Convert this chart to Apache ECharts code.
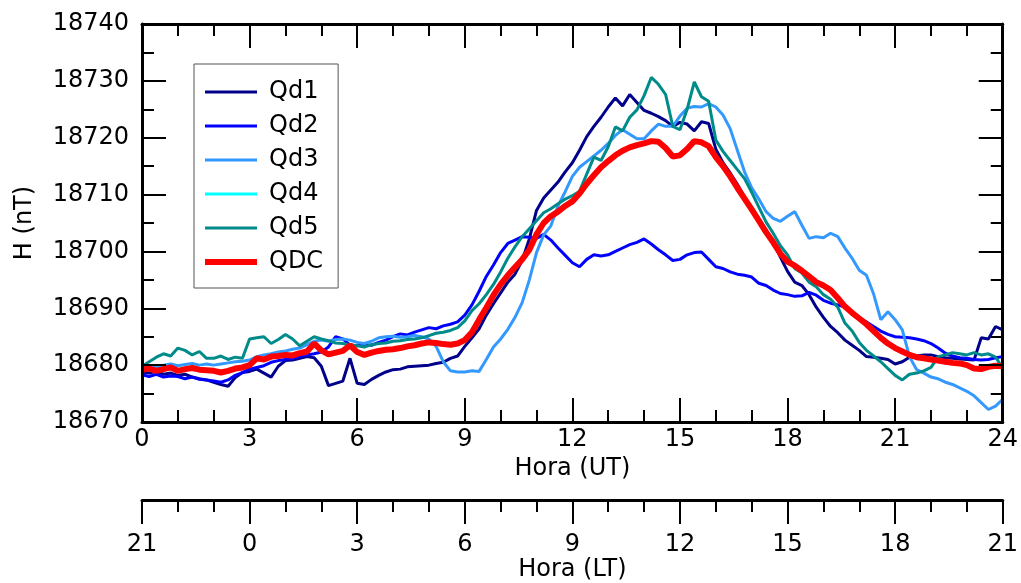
<!DOCTYPE html>
<html>
<head>
<meta charset="utf-8">
<script src="https://cdn.jsdelivr.net/npm/echarts@6/dist/echarts.min.js"></script>
<style>
html,body{margin:0;padding:0;background:#fff;}
#chart{width:1021px;height:583px;}
</style>
</head>
<body>
<div id="chart"></div>
<script>
// Hours (UT) of the sampled points
const hours = [0.0,0.2,0.4,0.6,0.8,1.0,1.2,1.4,1.6,1.8,2.0,2.2,2.4,2.6,2.8,3.0,3.2,3.4,3.6,3.8,
4.0,4.2,4.4,4.6,4.8,5.0,5.2,5.4,5.6,5.8,6.0,6.2,6.4,6.6,6.8,7.0,7.2,7.4,7.6,7.8,
8.0,8.2,8.4,8.6,8.8,9.0,9.2,9.4,9.6,9.8,10.0,10.2,10.4,10.6,10.8,11.0,11.2,11.4,11.6,11.8,
12.0,12.2,12.4,12.6,12.8,13.0,13.2,13.4,13.6,13.8,14.0,14.2,14.4,14.6,14.8,15.0,15.2,15.4,15.6,15.8,
16.0,16.2,16.4,16.6,16.8,17.0,17.2,17.4,17.6,17.8,18.0,18.2,18.4,18.6,18.8,19.0,19.2,19.4,19.6,19.8,
20.0,20.2,20.4,20.6,20.8,21.0,21.2,21.4,21.6,21.8,22.0,22.2,22.4,22.6,22.8,23.0,23.2,23.4,23.6,23.8,24.0];

const qd1 = [18678.8,18678.6,18678.9,18678.4,18678.6,18678.2,18678.4,18677.9,18677.6,18677.4,
18677.0,18676.6,18676.3,18677.8,18678.7,18678.9,18679.3,18678.6,18677.9,18679.8,
18680.8,18680.9,18681.2,18681.5,18681.3,18679.8,18676.4,18676.8,18677.2,18681.2,
18676.8,18676.6,18677.5,18678.2,18678.8,18679.2,18679.3,18679.7,18679.8,18679.9,
18680.0,18680.3,18680.5,18681.2,18681.6,18683.3,18684.8,18686.4,18688.8,18690.8,
18692.7,18694.6,18696.0,18698.4,18702.2,18707.2,18709.4,18710.8,18712.2,18714.0,
18715.6,18717.8,18720.2,18722.0,18723.6,18725.4,18727.0,18725.6,18727.6,18726.2,
18724.8,18724.3,18723.7,18723.0,18722.0,18722.7,18722.4,18721.2,18722.8,18722.5,
18718.0,18715.6,18713.8,18711.8,18709.5,18707.6,18705.8,18703.8,18701.8,18699.0,
18696.5,18694.6,18694.0,18692.4,18690.2,18688.4,18686.8,18685.7,18684.4,18683.5,
18682.6,18681.5,18681.4,18681.2,18681.0,18680.2,18680.6,18681.4,18681.6,18681.8,
18681.8,18681.5,18681.3,18681.2,18681.1,18681.0,18680.9,18684.8,18684.6,18686.8,18686.2];

const qd2 = [18678.3,18678.0,18678.4,18677.9,18678.1,18678.0,18677.6,18677.9,18677.5,18677.4,
18677.2,18677.0,18677.4,18678.2,18678.7,18679.3,18679.6,18679.9,18680.5,18680.8,
18681.0,18681.2,18681.5,18681.8,18682.0,18682.3,18683.2,18685.0,18684.6,18683.5,
18683.4,18683.6,18683.5,18684.0,18684.4,18685.0,18685.5,18685.3,18685.8,18686.2,
18686.6,18686.4,18686.9,18687.2,18687.6,18688.8,18690.6,18693.0,18695.6,18697.6,
18699.8,18701.4,18702.0,18702.6,18702.5,18702.3,18703.0,18702.0,18700.6,18699.3,
18698.0,18697.3,18698.6,18699.4,18699.2,18699.4,18700.0,18700.6,18701.2,18701.6,
18702.2,18701.3,18700.3,18699.4,18698.4,18698.6,18699.4,18699.8,18699.9,18698.6,
18697.3,18697.0,18696.4,18696.0,18695.8,18695.5,18694.4,18694.0,18693.2,18692.6,
18692.4,18692.1,18692.2,18692.8,18692.3,18691.4,18690.9,18690.6,18690.2,18689.0,
18688.2,18687.6,18686.8,18686.0,18685.4,18685.0,18684.9,18684.8,18684.6,18684.3,
18683.8,18683.0,18682.1,18681.6,18681.3,18681.2,18681.0,18680.9,18681.0,18681.3,18681.5];

const qd3 = [18679.5,18679.8,18679.6,18680.0,18680.2,18679.9,18680.1,18680.3,18680.0,18680.2,
18680.0,18680.2,18680.4,18680.6,18680.7,18680.9,18681.5,18681.8,18682.0,18682.3,
18682.5,18682.8,18683.0,18683.6,18684.2,18684.4,18684.2,18684.5,18684.6,18684.4,
18684.0,18683.8,18684.2,18684.8,18685.0,18685.1,18684.9,18685.0,18685.2,18685.0,
18684.6,18683.3,18680.6,18679.0,18678.8,18678.8,18679.0,18678.9,18681.0,18683.2,
18684.6,18686.3,18688.4,18691.0,18695.0,18699.8,18702.9,18704.5,18708.0,18710.5,
18713.2,18714.8,18715.8,18716.8,18717.8,18719.0,18720.4,18721.4,18720.6,18719.8,
18719.8,18721.2,18722.4,18722.0,18722.0,18723.8,18725.2,18725.5,18725.4,18726.0,
18725.4,18724.0,18721.6,18717.8,18714.0,18711.2,18709.2,18707.0,18705.8,18705.3,
18706.2,18707.0,18704.6,18702.3,18702.6,18702.4,18703.2,18702.6,18700.6,18698.8,
18696.7,18695.8,18692.5,18688.0,18689.4,18688.0,18686.2,18681.5,18679.2,18678.6,
18677.9,18677.6,18677.0,18676.6,18676.0,18675.4,18674.6,18673.4,18672.2,18672.8,18674.0];

// Qd4 is listed in the legend but no trace is visible in the figure
const qd4 = [];

const qd5 = [18679.8,18680.6,18681.4,18682.0,18681.6,18683.0,18682.6,18681.8,18682.4,18681.2,
18681.2,18681.6,18681.0,18681.4,18681.2,18684.6,18684.8,18685.0,18683.8,18684.5,
18685.4,18684.6,18683.4,18684.2,18685.0,18684.6,18684.3,18683.9,18683.8,18683.6,
18683.4,18683.2,18683.6,18683.8,18683.9,18684.2,18684.3,18684.5,18684.6,18684.8,
18685.2,18685.6,18685.8,18686.1,18686.6,18687.8,18689.6,18690.8,18692.4,18694.2,
18696.4,18698.8,18700.8,18702.6,18704.0,18705.4,18706.8,18707.5,18708.4,18709.2,
18709.8,18710.6,18713.6,18716.6,18716.0,18718.4,18721.9,18721.2,18723.6,18724.9,
18727.4,18730.6,18729.4,18727.6,18722.0,18721.4,18725.0,18729.8,18727.2,18726.4,
18719.6,18717.6,18716.0,18714.4,18712.8,18710.4,18707.8,18705.2,18703.2,18701.0,
18699.4,18697.0,18696.2,18694.6,18693.8,18692.4,18691.6,18690.2,18687.4,18686.0,
18684.0,18682.6,18681.6,18680.6,18679.4,18678.2,18677.4,18678.4,18678.6,18679.0,
18679.6,18681.5,18681.8,18682.2,18682.0,18681.8,18682.2,18681.8,18682.0,18681.4,18679.5];

const qdc = [18679.2,18679.4,18679.0,18679.3,18679.6,18679.0,18679.3,18679.5,18679.2,18679.1,
18679.0,18678.7,18679.0,18679.4,18679.6,18680.0,18681.2,18681.0,18681.5,18681.6,
18681.8,18681.7,18682.1,18682.4,18683.8,18682.6,18681.9,18682.2,18682.5,18683.5,
18682.3,18681.8,18682.2,18682.5,18682.7,18682.8,18683.0,18683.3,18683.5,18683.8,
18684.0,18683.9,18683.7,18683.6,18683.8,18684.4,18685.8,18688.0,18690.1,18692.3,
18694.2,18695.8,18697.2,18698.6,18700.3,18703.0,18705.0,18706.2,18707.0,18708.0,
18708.8,18710.2,18711.9,18713.4,18714.8,18715.9,18716.9,18717.7,18718.3,18718.7,
18719.0,18719.4,18719.3,18718.2,18716.7,18716.9,18718.0,18719.4,18719.2,18718.5,
18716.6,18715.0,18713.2,18711.2,18709.3,18707.4,18705.4,18703.4,18701.6,18699.6,
18698.2,18697.5,18696.6,18695.6,18694.6,18694.0,18693.2,18691.8,18690.3,18689.2,
18688.2,18687.2,18686.0,18684.8,18683.8,18683.0,18682.4,18681.8,18681.4,18681.2,
18681.0,18680.8,18680.6,18680.4,18680.3,18680.0,18679.4,18679.3,18679.7,18679.9,18679.8];

const seriesNames = ['Qd1','Qd2','Qd3','Qd4','Qd5','QDC'];
const seriesValues = [qd1, qd2, qd3, qd4, qd5, qdc];
const seriesColors = ['#00008b','#0000ff','#3399ff','#00ffff','#008b8b','#ff0000'];
const seriesWidths = [3,3,3,3,3,6];

// Tick labels: UT hours on the main axis, LT = UT - 3 on the lower axis
const utTicks = [0,3,6,9,12,15,18,21,24];
const ltTicks = [21,0,3,6,9,12,15,18,21];

function pairs(vals){ return vals.map((v,i)=>[hours[i], v]); }

const FONT = 'DejaVu Sans';
const FS = 24;
const black = '#000';

function xAx(extra){
  return Object.assign({
    type:'value', min:0, max:24, interval:3, gridIndex:0, z:5,
    axisLine:{show:true, onZero:false, lineStyle:{color:black, width:3}},
    axisTick:{show:true, inside:true, length:24, lineStyle:{color:black, width:2}},
    minorTick:{show:true, splitNumber:3, length:12, lineStyle:{color:black, width:2}},
    splitLine:{show:false},
    axisLabel:{show:false}
  }, extra);
}
function yAx(extra){
  return Object.assign({
    type:'value', min:18670, max:18740, interval:10, gridIndex:0, z:5,
    axisLine:{show:true, onZero:false, lineStyle:{color:black, width:3}},
    axisTick:{show:true, inside:true, length:24, lineStyle:{color:black, width:2}},
    minorTick:{show:true, splitNumber:2, length:12, lineStyle:{color:black, width:2}},
    splitLine:{show:false},
    axisLabel:{show:false}
  }, extra);
}

const chart = echarts.init(document.getElementById('chart'), null, {renderer:'canvas'});
chart.setOption({
  animation:false,
  backgroundColor:'#fff',
  textStyle:{fontFamily:FONT},
  grid:[
    {left:142, top:24, width:862, height:398},
    {left:142, top:490, width:862, height:12}
  ],
  legend:{
    orient:'vertical', left:194, top:64,
    data:seriesNames.map((n,i)=>({
      name:n,
      icon:'path://M0,0H52V' + seriesWidths[i] + 'H0Z',
      itemStyle:{color:seriesColors[i], borderWidth:0}
    })),
    symbolKeepAspect:true,
    backgroundColor:'#fff', borderColor:'#555', borderWidth:1,
    padding:[16,15,14,11],
    itemWidth:52, itemHeight:14, itemGap:10,
    textStyle:{fontSize:FS, color:black, fontFamily:FONT, lineHeight:22, padding:[0,0,0,7]}
  },
  xAxis:[
    xAx({position:'bottom',
      axisLabel:{show:true, fontSize:FS, color:black, fontFamily:FONT, margin:6,
        formatter:v=>String(utTicks[utTicks.indexOf(v)])},
      name:'Hora (UT)', nameLocation:'middle', nameGap:31,
      nameTextStyle:{fontSize:FS, color:black, fontFamily:FONT}}),
    xAx({position:'top'}),
    {
      type:'value', min:0, max:24, interval:3, gridIndex:1, position:'bottom',
      axisLine:{show:true, onZero:false, lineStyle:{color:black, width:3}},
      axisTick:{show:true, inside:false, length:24, lineStyle:{color:black, width:2}},
      minorTick:{show:true, splitNumber:3, length:12, lineStyle:{color:black, width:2}},
      splitLine:{show:false},
      axisLabel:{show:true, fontSize:FS, color:black, fontFamily:FONT, margin:33,
        formatter:v=>String(ltTicks[utTicks.indexOf(v)])},
      name:'Hora (LT)', nameLocation:'middle', nameGap:51,
      nameTextStyle:{fontSize:FS, color:black, fontFamily:FONT}
    }
  ],
  yAxis:[
    yAx({position:'left',
      axisLabel:{show:true, fontSize:FS, color:black, fontFamily:FONT, margin:13,
        formatter:v=>String(v)},
      name:'H (nT)', nameLocation:'middle', nameGap:105, nameRotate:90,
      nameTextStyle:{fontSize:FS, color:black, fontFamily:FONT}}),
    yAx({position:'right'}),
    {type:'value', gridIndex:1, min:0, max:1, show:false}
  ],
  series: seriesNames.map((n,i)=>({
    name:n, type:'line', xAxisIndex:0, yAxisIndex:0,
    data:pairs(seriesValues[i]),
    showSymbol:false, symbol:'none',
    color:seriesColors[i],
    lineStyle:{color:seriesColors[i], width:seriesWidths[i]},
    z:2+i*0.01
  }))
});
</script>
</body>
</html>
